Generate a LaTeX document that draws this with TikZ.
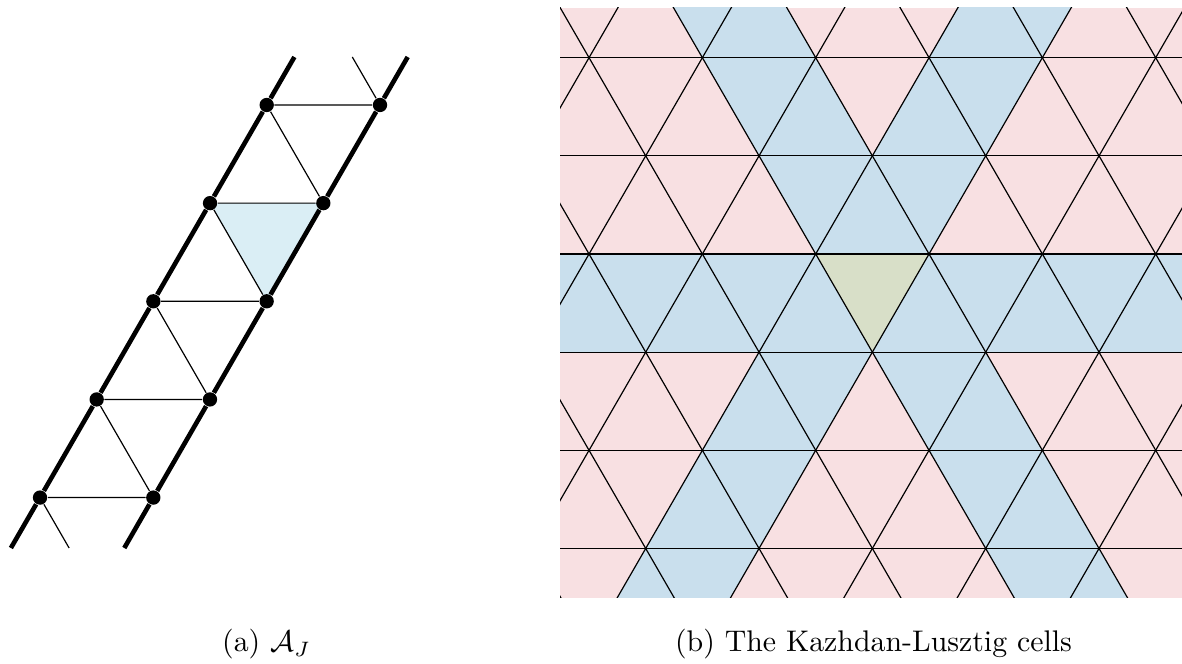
\documentclass[tikz,border=0pt]{standalone}
\usepackage{amsmath}
\usepackage{amssymb}
\usepackage{tikz}
\usetikzlibrary{
    positioning,
    backgrounds
}
\definecolor{ajblue}{RGB}{218,238,245}
\definecolor{klpink}{RGB}{248,224,226}
\definecolor{klblue}{RGB}{201,223,237}
\definecolor{klgreen}{RGB}{216,223,200}
\tikzset{
    latt/.style={
        circle,
        fill=black,
        minimum size=4.8pt,
        inner sep=0pt
    },
    rail/.style={line width=1.55pt},
    wall/.style={line width=0.4pt},
    capt/.style={anchor=base}
}

\begin{document}
\begin{tikzpicture}[
    x=0.01178cm,
    y=-0.01178cm
]
    \useasboundingbox (0,0) rectangle (1182,664);

    % Tira A_J
    \foreach \k in {0,...,4} {
        \node[latt] (l\k) at ({266.7-56.67*\k}, {105+98.15*\k}) {};
        \node[latt] (r\k) at ({380-56.67*\k},   {105+98.15*\k}) {};
    }
    \coordinate (ltop) at (294.4,57);
    \coordinate (lbot) at (10.9,548);
    \coordinate (rtop) at (407.7,57);
    \coordinate (rbot) at (124.3,548);
    \coordinate (rstub) at (352.3,57);
    \coordinate (lstub) at (69.1,548);

    \begin{scope}[on background layer]
        \fill[ajblue] (l1.center) -- (r1.center) -- (r2.center) -- cycle;
    \end{scope}

    \draw[rail] (ltop) -- (l0) -- (l1) -- (l2) -- (l3) -- (l4) -- (lbot);
    \draw[rail] (rtop) -- (r0) -- (r1) -- (r2) -- (r3) -- (r4) -- (rbot);

    \draw[wall]
        (l0) -- (r0)  (l1) -- (r1)  (l2) -- (r2)  (l3) -- (r3)  (l4) -- (r4)
        (l0) -- (r1)  (l1) -- (r2)  (l2) -- (r3)  (l3) -- (r4)
        (r0) -- (rstub)  (l4) -- (lstub);

    % Celdas
    \begin{scope}
        \clip (560,8) rectangle (1182,598);
        \fill[klpink] (560,8) rectangle (1182,598);
        \fill[klblue] (560,254) rectangle (1182,352.15);
        \fill[klblue] (645.7,-40.45) -- (759,-40.45) -- (1155.7,646.6) -- (1042.4,646.6) -- cycle;
        \fill[klblue] (985.7,-40.45) -- (1099,-40.45) -- (702.3,646.6) -- (589,646.6) -- cycle;
        \fill[klgreen] (815.7,254) -- (929,254) -- (872.35,352.15) -- cycle;
        \foreach \r in {-2,...,3}
            \draw[wall] (560,{254+98.15*\r}) -- (1182,{254+98.15*\r});
        \foreach \k in {-6,...,6} {
            \draw[wall] ({815.7+113.33*(\k-1.5)},-40.45) -- ({815.7+113.33*(\k+2)},646.6);
            \draw[wall] ({815.7+113.33*(\k+1.5)},-40.45) -- ({815.7+113.33*(\k-2)},646.6);
        }
    \end{scope}

    % Leyendas
    \node[capt] (capa) at (266.5,652) {(a) $\mathcal{A}_J$};
    \node[capt] (capb) at (873.5,652) {(b) The Kazhdan-Lusztig cells};

\end{tikzpicture}
\end{document}
